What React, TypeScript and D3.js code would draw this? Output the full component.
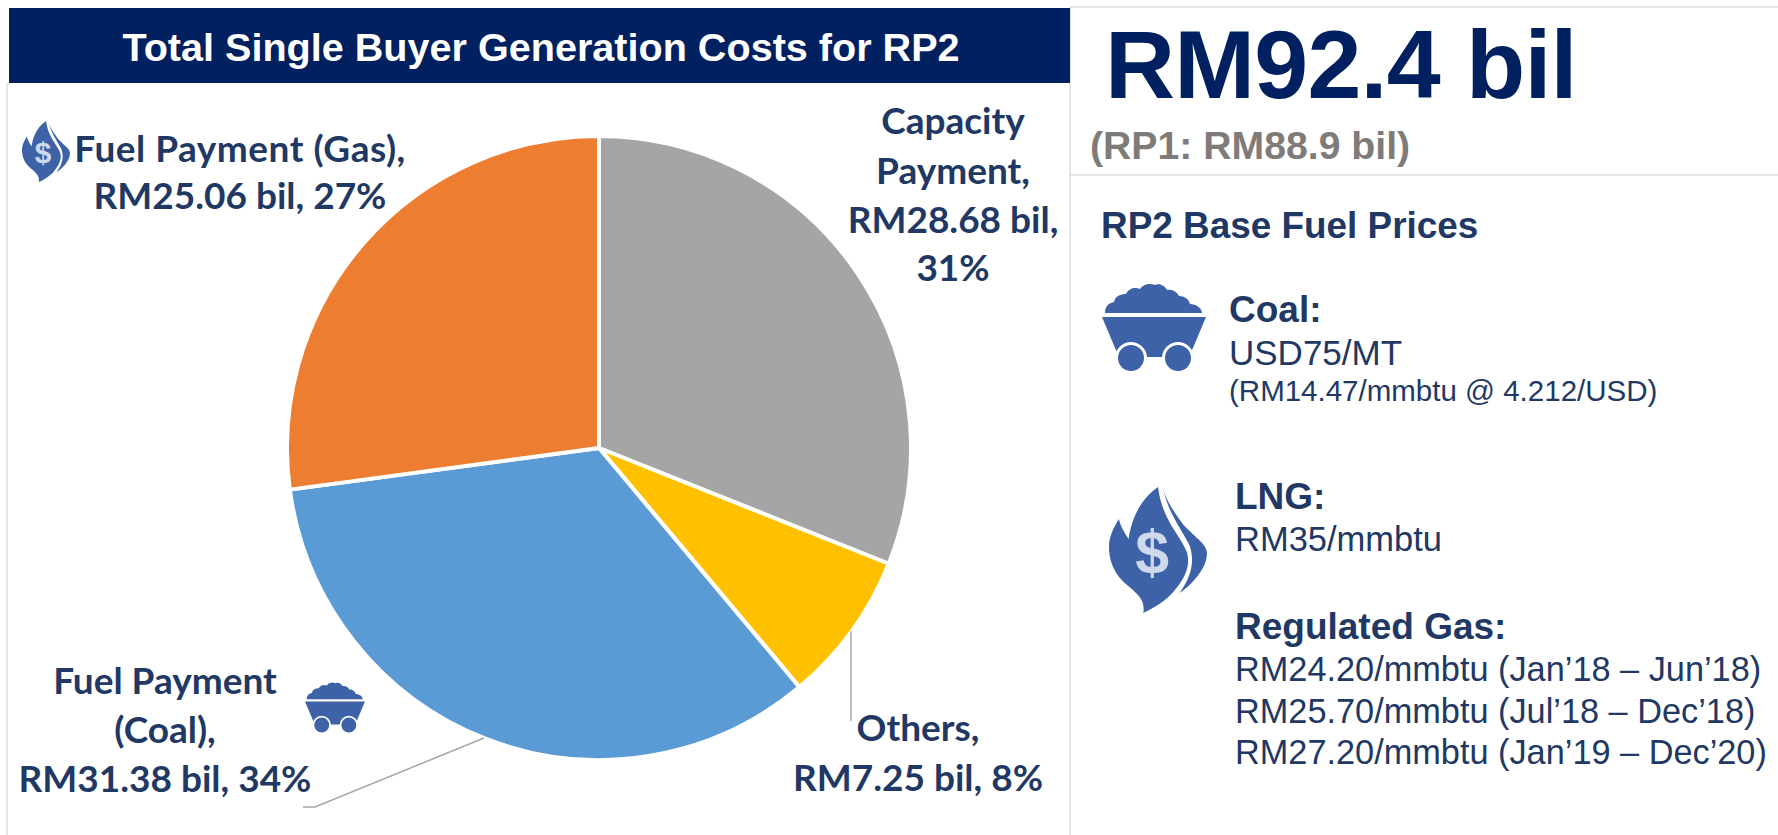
import React from "react";
import * as d3 from "d3";

const categories = ["Capacity Payment", "Others", "Fuel Payment (Coal)", "Fuel Payment (Gas)"];
const valuesBil = [28.68, 7.25, 31.38, 25.06];
const sliceColors = ["#a5a5a5", "#ffc000", "#5b9bd5", "#ed7d31"];

const chartTitle = "Total Single Buyer Generation Costs for RP2";
const totalText = "RM92.4 bil";
const previousText = "(RP1: RM88.9 bil)";
const pricesTitle = "RP2 Base Fuel Prices";

const pieLabels = [
  { lines: ["Capacity", "Payment,", "RM28.68 bil,", "31%"], x: 953, ys: [134, 184, 233, 281] },
  { lines: ["Others,", "RM7.25 bil, 8%"], x: 918, ys: [741, 791] },
  { lines: ["Fuel Payment", "(Coal),", "RM31.38 bil, 34%"], x: 165, ys: [694, 743, 792] },
  { lines: ["Fuel Payment (Gas),", "RM25.06 bil, 27%"], x: 240, ys: [162, 209] },
];

const priceRows = [
  { text: "Coal:", x: 1229, y: 322, size: 37, bold: true },
  { text: "USD75/MT", x: 1229, y: 365, size: 35, bold: false },
  { text: "(RM14.47/mmbtu @ 4.212/USD)", x: 1229, y: 401, size: 29.5, bold: false },
  { text: "LNG:", x: 1235, y: 509, size: 37, bold: true },
  { text: "RM35/mmbtu", x: 1235, y: 551, size: 34.5, bold: false },
  { text: "Regulated Gas:", x: 1235, y: 639, size: 37, bold: true },
  { text: "RM24.20/mmbtu (Jan’18 – Jun’18)", x: 1235, y: 681, size: 34.3, bold: false },
  { text: "RM25.70/mmbtu (Jul’18 – Dec’18)", x: 1235, y: 723, size: 34.3, bold: false },
  { text: "RM27.20/mmbtu (Jan’19 – Dec’20)", x: 1235, y: 764, size: 34.3, bold: false },
];

const NAVY = "#002060";
const TEXT = "#1f3864";
const ICON = "#3d62a8";
const RULE = "#dcdcdc";
const LEADER = "#a6a6a6";
const ARIAL = "'Liberation Sans', Arial, sans-serif";
const LABEL_FONT = "Lato, 'Open Sans', sans-serif";

function Flame({ x, y, w, h }: { x: number; y: number; w: number; h: number }) {
  return (
    <g transform={`translate(${x},${y}) scale(${w / 100},${h / 126})`}>
      <path
        fill={ICON}
        d="M50,0 C38,8 24,24 20,52 C16,46 12,40 10,32 C4,42 0,50 0,60 C0,72 4,84 14,94 C24,104 38,110 35,126 C52,118 62,110 68,102 C80,88 84,74 78,62 C72,48 54,32 50,0 Z"
      />
      <path
        fill={ICON}
        d="M55,0 C58,14 66,24 76,38 C90,52 100,58 100,66 C100,82 84,98 72,106 C84,90 88,74 82,58 C74,42 60,26 55,0 Z"
      />
      <text
        x={44}
        y={86}
        textAnchor="middle"
        fontFamily={ARIAL}
        fontWeight={700}
        fontSize={62}
        fill="#cfd9ec"
      >
        $
      </text>
    </g>
  );
}

function Cart({ x, y, w, h }: { x: number; y: number; w: number; h: number }) {
  return (
    <g transform={`translate(${x},${y}) scale(${w / 104},${h / 89})`}>
      <path
        fill={ICON}
        d="M3,30 C3,23 7,20 12,19 C13,13 19,11 24,11 C27,5 33,4 38,6 C41,1 48,0 53,2 C58,0 63,3 65,7 C70,6 75,9 77,13 C82,13 87,16 88,21 C94,21 100,25 100,30 Z"
      />
      <path fill={ICON} d="M0,34 L104,34 L88,72 L70,72 L66,74 L40,74 L36,72 L16,72 Z" />
      <circle cx={29} cy={75} r={14.5} fill={ICON} stroke="#fff" strokeWidth={3} />
      <circle cx={76} cy={75} r={14.5} fill={ICON} stroke="#fff" strokeWidth={3} />
    </g>
  );
}

export default function App() {
  const cx = 599;
  const cy = 448;
  const radius = 312;
  const slices = d3
    .pie<number>()
    .sort(null)
    .value((d) => d)(valuesBil);
  const arc = d3.arc<d3.PieArcDatum<number>>().innerRadius(0).outerRadius(radius);

  return (
    <svg
      width={1778}
      height={835}
      viewBox="0 0 1778 835"
      style={{ position: "absolute", left: 0, top: 0, display: "block", background: "#fff" }}
    >
      <line x1={7} y1={83} x2={7} y2={835} stroke={RULE} strokeWidth={1.5} />
      <line x1={1070} y1={7} x2={1070} y2={835} stroke={RULE} strokeWidth={1.5} />
      <line x1={1070} y1={7} x2={1778} y2={7} stroke={RULE} strokeWidth={1.5} />
      <line x1={1070} y1={175} x2={1778} y2={175} stroke={RULE} strokeWidth={1.5} />

      <rect x={9} y={8} width={1061} height={75} fill={NAVY} />
      <text
        x={541}
        y={61}
        textAnchor="middle"
        fontFamily={ARIAL}
        fontWeight={700}
        fontSize={39.6}
        fill="#fff"
      >
        {chartTitle}
      </text>

      <g transform={`translate(${cx},${cy})`}>
        {slices.map((s, i) => (
          <path
            key={categories[i]}
            d={arc(s) ?? ""}
            fill={sliceColors[i]}
            stroke="#fff"
            strokeWidth={4}
            strokeLinejoin="round"
          />
        ))}
      </g>

      <polyline points="851,631 851,721" fill="none" stroke={LEADER} strokeWidth={1.5} />
      <polyline points="484,738 315,807 303,807" fill="none" stroke={LEADER} strokeWidth={1.5} />

      {pieLabels.map((l, i) => (
        <text
          key={i}
          textAnchor="middle"
          fontFamily={LABEL_FONT}
          fontWeight={700}
          fontSize={37}
          fill={TEXT}
        >
          {l.lines.map((t, j) => (
            <tspan key={j} x={l.x} y={l.ys[j]} letterSpacing={t.startsWith("Fuel Payment (") ? 0.5 : 0}>
              {t}
            </tspan>
          ))}
        </text>
      ))}

      <Flame x={22} y={121} w={48} h={61} />
      <Cart x={305} y={682} w={60} h={51} />
      <Cart x={1102} y={283} w={104} h={89} />
      <Flame x={1109} y={487} w={98} h={126} />

      <text
        x={1105}
        y={98}
        fontFamily={ARIAL}
        fontWeight={700}
        fontSize={97}
        letterSpacing={-0.8}
        fill={NAVY}
      >
        {totalText}
      </text>
      <text x={1090} y={159} fontFamily={ARIAL} fontWeight={700} fontSize={39.2} fill="#7f7b78">
        {previousText}
      </text>
      <text x={1101} y={238} fontFamily={ARIAL} fontWeight={700} fontSize={36.9} fill={TEXT}>
        {pricesTitle}
      </text>

      {priceRows.map((r) => (
        <text
          key={r.text}
          x={r.x}
          y={r.y}
          fontFamily={ARIAL}
          fontWeight={r.bold ? 700 : 400}
          fontSize={r.size}
          fill={TEXT}
        >
          {r.text}
        </text>
      ))}
    </svg>
  );
}
